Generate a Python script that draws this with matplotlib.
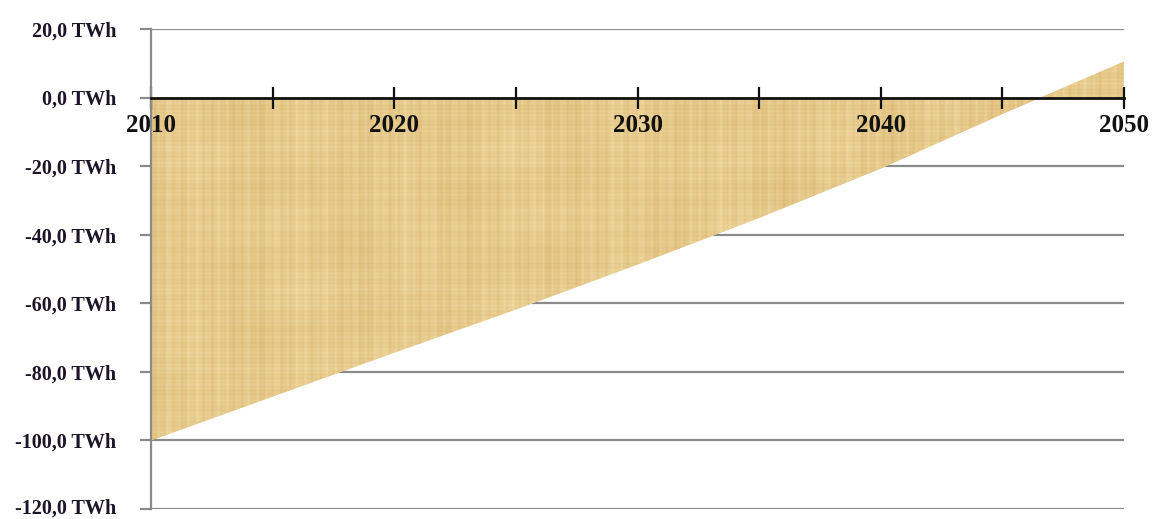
import numpy as np
import matplotlib
matplotlib.use("Agg")
import matplotlib.pyplot as plt
import matplotlib.transforms as mtransforms
from matplotlib.ticker import MultipleLocator, FixedLocator

years = [2010, 2015, 2020, 2025, 2030, 2035, 2040, 2045, 2050]
values = [-100.0, -87.2, -74.4, -61.8, -48.7, -35.1, -20.7, -4.8, 10.5]
y_ticks = [20, 0, -20, -40, -60, -80, -100, -120]
y_labels = ["20,0 TWh", "0,0 TWh", "-20,0 TWh", "-40,0 TWh", "-60,0 TWh",
            "-80,0 TWh", "-100,0 TWh", "-120,0 TWh"]
x_major = [2010, 2020, 2030, 2040, 2050]
x_labels = ["2010", "2020", "2030", "2040", "2050"]

fig = plt.figure(figsize=(11.52, 5.19), dpi=100)
ax = fig.add_axes([151/1152, 1-509/519, (1124-151)/1152, (509-29)/519])
ax.set_xlim(2010, 2050)
ax.set_ylim(-120, 20)

# gridlines (behind the fill)
for yv in y_ticks:
    if yv != 0:
        ax.axhline(yv, color="#8a8a8a", lw=1.6, zorder=1)

# papyrus-like fill
poly = ax.fill_between(years, values, 0, facecolor="#e9cd92", edgecolor="none", zorder=2)
xx = np.linspace(0, 1, 1000)
yy = np.linspace(0, 1, 500)
X, Y = np.meshgrid(xx, yy)
vert = (0.30*np.sin(X*620) + 0.22*np.sin(X*1410+1.3) + 0.18*np.sin(X*233+0.4)
        + 0.15*np.sin(X*57+2.2))
horiz = (0.22*np.sin(Y*760+0.7) + 0.14*np.sin(Y*190+2.1) + 0.1*np.sin(Y*43))
blot = 0.18*np.sin(X*31+Y*11) * np.sin(Y*27-X*7+0.5)
pat = vert + horiz + blot
pat = (pat - pat.min()) / (pat.max() - pat.min())
base = np.array([242, 222, 168]) / 255.0
dark = np.array([218, 182, 112]) / 255.0
img = base[None, None, :] * (1 - pat[..., None]) + dark[None, None, :] * pat[..., None]
im = ax.imshow(img, extent=[2010, 2050, -120, 20], aspect="auto", zorder=2.5,
               interpolation="bilinear")
paths = poly.get_paths()
im.set_clip_path(paths[0], transform=ax.transData)

# spines
for s in ["top", "right"]:
    ax.spines[s].set_visible(False)
ax.spines["left"].set_color("#8a8a8a")
ax.spines["left"].set_linewidth(1.6)
ax.spines["left"].set_zorder(4)
ax.spines["bottom"].set_position(("data", 0))
ax.spines["bottom"].set_color("#111111")
ax.spines["bottom"].set_linewidth(2.0)
ax.spines["bottom"].set_zorder(4)

ax.set_yticks(y_ticks)
ax.set_yticklabels(y_labels, fontfamily="Liberation Serif", fontweight="bold",
                   fontsize=14.5, color="#1c1428")
ax.tick_params(axis="y", direction="out", length=8, width=1.6, color="#8a8a8a", pad=17)
last = ax.get_yticklabels()[-1]
last.set_transform(last.get_transform() +
                   mtransforms.ScaledTranslation(0, 3/100, fig.dpi_scale_trans))

ax.xaxis.set_major_locator(FixedLocator(x_major))
ax.xaxis.set_minor_locator(MultipleLocator(5))
ax.set_xticklabels(x_labels, fontfamily="Liberation Serif", fontweight="bold",
                   fontsize=18, color="#111111")
ax.tick_params(axis="x", which="both", direction="inout", length=16, width=1.6,
               color="#111111", pad=4)
for t in ax.xaxis.get_major_ticks() + ax.xaxis.get_minor_ticks():
    t.tick1line.set_zorder(5)
ax.set_axisbelow(False)

fig.savefig("out.png", dpi=100)
